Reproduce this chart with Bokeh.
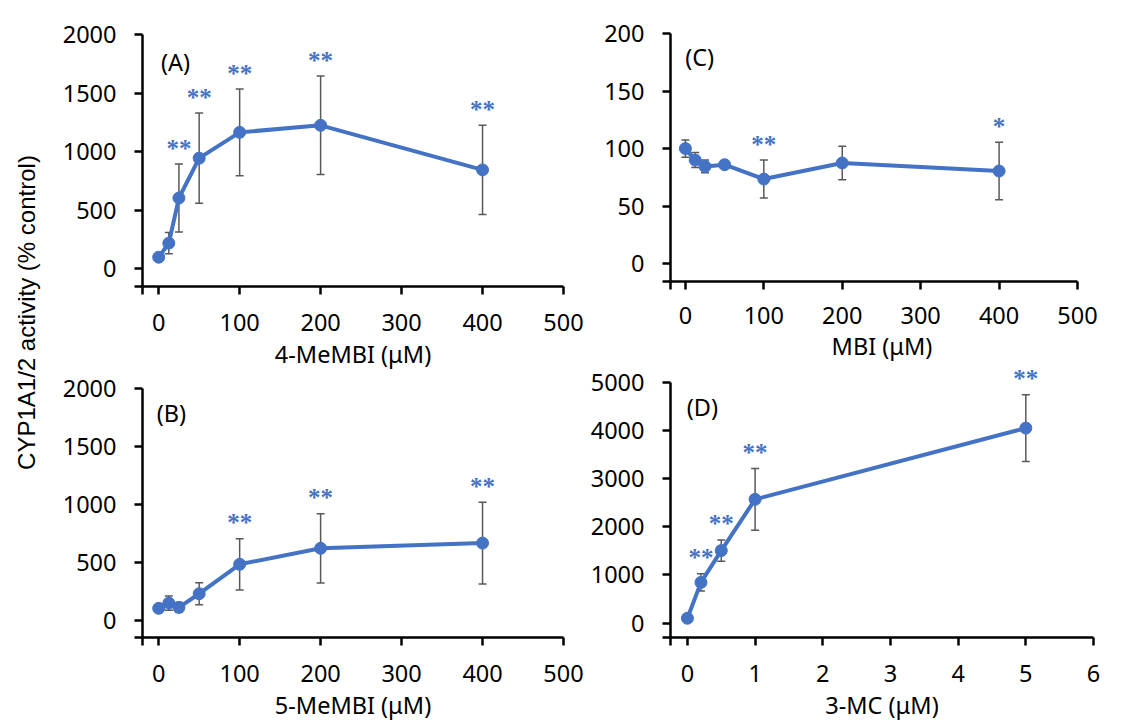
import math
from bokeh.plotting import figure
from bokeh.models import (ColumnDataSource, Whisker, TeeHead, FixedTicker, Range1d,
                          Label, LabelSet)
from bokeh.layouts import row, column
from bokeh.embed import file_html
from bokeh.resources import INLINE

BLUE = "#4472C4"
ERR = "#595959"
FONT = "Noto Sans"
FS = "23.5px"

# ---- data ----
a_x = [0, 12.5, 25, 50, 100, 200, 400]
a_y = [100, 220, 605, 945, 1165, 1225, 845]
a_err = [10, 90, 290, 385, 370, 420, 380]
a_sig = ["", "", "**", "**", "**", "**", "**"]

b_x = [0, 12.5, 25, 50, 100, 200, 400]
b_y = [102, 147, 110, 228, 482, 620, 665]
b_err = [10, 62, 42, 95, 221, 299, 352]
b_sig = ["", "", "", "", "**", "**", "**"]

c_x = [0, 12.5, 25, 50, 100, 200, 400]
c_y = [100, 90, 84.5, 86, 73.5, 87.5, 80.5]
c_err = [7.5, 6.5, 5.5, 2, 16.5, 14.5, 25]
c_sig = ["", "", "", "", "**", "", "*"]

d_x = [0, 0.2, 0.5, 1, 5]
d_y = [100, 845, 1505, 2570, 4050]
d_err = [20, 177, 221, 643, 695]
d_sig = ["", "**", "**", "**", "**"]

mebi_xticks = [0, 100, 200, 300, 400, 500]
mebi_yticks = [0, 500, 1000, 1500, 2000]
mbi_yticks = [0, 50, 100, 150, 200]
mc_xticks = [0, 1, 2, 3, 4, 5, 6]
mc_yticks = [0, 1000, 2000, 3000, 4000, 5000]

y_title = "CYP1A1/2 activity (% control)"


def make_panel(xs, ys, errs, sigs, x_rng, x_bounds, y_rng, y_bounds, xticks, yticks,
               xlabel, tag, tag_xy, w, h, bl, br, bt, bb, s1=19, s2=4, gap=16):
    p = figure(width=w, height=h, x_range=Range1d(*x_rng), y_range=Range1d(*y_rng),
               output_backend="svg", toolbar_location=None,
               min_border_left=bl, min_border_right=br,
               min_border_top=bt, min_border_bottom=bb)
    p.grid.visible = False
    p.outline_line_color = None

    upper = [y + e for y, e in zip(ys, errs)]
    lower = [y - e for y, e in zip(ys, errs)]
    src = ColumnDataSource(dict(x=xs, y=ys, upper=upper, lower=lower))
    head = dict(size=8, line_color=ERR, line_width=1.5)
    p.add_layout(Whisker(source=src, base="x", upper="upper", lower="lower",
                         dimension="height", line_color=ERR, line_width=1.5,
                         upper_head=TeeHead(**head), lower_head=TeeHead(**head)))
    p.line("x", "y", source=src, line_color=BLUE, line_width=4)
    p.scatter("x", "y", source=src, size=12, fill_color=BLUE, line_color=BLUE)

    frame_h = h - bt - bb
    per_px = (y_rng[1] - y_rng[0]) / frame_h
    sx, sy, st = [], [], []
    for x, u, s in zip(xs, upper, sigs):
        if s:
            sx.append(x)
            sy.append(u + gap * per_px)
            st.append(s)
    p.add_layout(LabelSet(x="x", y="y", text="t",
                          source=ColumnDataSource(dict(x=sx, y=sy, t=st)),
                          text_color=BLUE, text_font=FONT, text_font_size="25px",
                          text_font_style="bold", text_align="center",
                          text_baseline="middle"))

    p.add_layout(Label(x=tag_xy[0], y=tag_xy[1], text=tag, text_font=FONT,
                       text_font_size=FS, text_color="black",
                       text_align="center", text_baseline="middle"))

    p.xaxis.ticker = FixedTicker(ticks=xticks, minor_ticks=[x_bounds[0]])
    p.xaxis.bounds = x_bounds
    p.yaxis.ticker = FixedTicker(ticks=yticks, minor_ticks=[y_bounds[0]])
    p.yaxis.bounds = y_bounds
    for ax in p.axis:
        ax.axis_line_width = 2.5
        ax.axis_line_color = "black"
        ax.major_tick_line_width = 2.5
        ax.major_tick_line_color = "black"
        ax.major_tick_out = 8
        ax.major_tick_in = 0
        ax.minor_tick_line_width = 2.5
        ax.minor_tick_line_color = "black"
        ax.minor_tick_out = 8
        ax.minor_tick_in = 0
        ax.major_label_text_font = FONT
        ax.major_label_text_font_size = FS
        ax.major_label_text_color = "black"
    p.yaxis.major_label_standoff = 18
    p.xaxis.major_label_standoff = s1
    p.xaxis.axis_label = xlabel
    p.xaxis.axis_label_standoff = s2
    p.xaxis.axis_label_text_font = FONT
    p.xaxis.axis_label_text_font_size = FS
    p.xaxis.axis_label_text_font_style = "normal"
    p.xaxis.axis_label_text_color = "black"
    return p


pa = make_panel(a_x, a_y, a_err, a_sig, (-20, 500), (-20, 500), (-150, 2000), (-150, 2000),
                mebi_xticks, mebi_yticks, "4-MeMBI (μM)", "(A)", (20.8, 1762),
                537, 372, 94, 22, 34, 85)
pb = make_panel(b_x, b_y, b_err, b_sig, (-20, 500), (-20, 500), (-150, 2000), (-150, 2000),
                mebi_xticks, mebi_yticks, "5-MeMBI (μM)", "(B)", (15.8, 1787),
                537, 351, 94, 22, 16, 82)
pc = make_panel(c_x, c_y, c_err, c_sig, (-19, 520.4), (-19, 500), (-15.5, 200), (-15.5, 200),
                mebi_xticks, mbi_yticks, "MBI (μM)", "(C)", (18.2, 179.4),
                549, 364, 85, 41, 33, 80, s1=17, s2=3)
pd = make_panel(d_x, d_y, d_err, d_sig, (-0.25, 6), (-0.25, 6), (-300, 5330), (-300, 5000),
                mc_xticks, mc_yticks, "3-MC (μM)", "(D)", (0.22, 4480),
                549, 359, 85, 41, 2, 86)

yl = figure(width=48, height=723, x_range=Range1d(0, 48), y_range=Range1d(0, 723),
            output_backend="svg", toolbar_location=None, min_border=0,
            x_axis_location=None, y_axis_location=None)
yl.outline_line_color = None
yl.grid.visible = False
yl.add_layout(Label(x=26, y=723 - 312, text=y_title, angle=math.pi / 2,
                    text_align="center", text_baseline="middle",
                    text_font="Liberation Sans", text_font_size="24px",
                    text_color="black"))

layout = row(yl, column(pa, pb), column(pc, pd))
open("out.html", "w").write(file_html(layout, INLINE))
